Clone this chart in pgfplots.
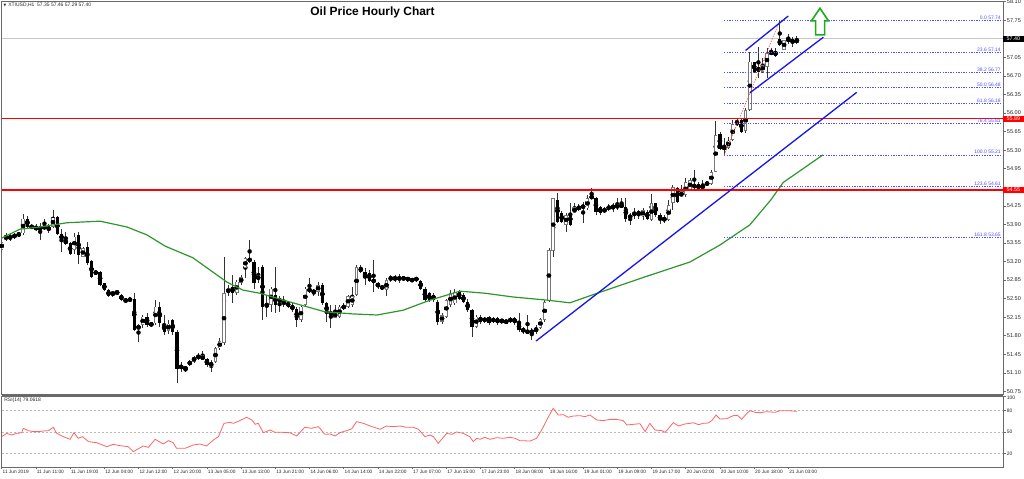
\documentclass[border=0pt]{standalone}
\usepackage{pgfplots}
\pgfplotsset{compat=1.18}
\usepackage{pgfplotstable}
\usepackage{fontspec}
\setmainfont{Liberation Sans}
\newfontfamily\dejavu{DejaVu Sans}

\definecolor{ma}{RGB}{45,150,45}
\definecolor{rsi}{RGB}{255,100,100}
\definecolor{fib}{RGB}{80,80,255}
\definecolor{tl}{RGB}{20,20,235}
\definecolor{frame}{RGB}{105,105,105}
\definecolor{arrowg}{RGB}{30,170,30}
\definecolor{bull}{RGB}{120,120,120}

\tikzset{fiblab/.style={pos=1, anchor=south east, inner sep=0.6bp, text=fib, font=\fontsize{5}{5}\selectfont}}
\pgfplotsset{fibline/.style={fib, line width=0.6bp, dash pattern=on 1.3bp off 1.3bp}}

\pgfplotstableread{
k o h l c
0 53.42 53.60 53.38 53.57
1 53.61 53.73 53.59 53.70
2 53.69 53.71 53.59 53.62
3 53.65 53.74 53.63 53.71
4 53.71 53.73 53.69 53.71
5 53.73 54.09 53.70 54.01
6 54.00 54.05 53.84 53.86
7 53.86 53.88 53.82 53.85
8 53.87 53.90 53.77 53.79
9 53.80 53.92 53.60 53.85
10 53.85 54.01 53.82 53.84
11 53.77 53.90 53.74 53.87
12 53.86 54.17 53.84 54.03
13 54.03 54.05 53.70 53.71
14 53.72 53.82 53.38 53.60
15 53.60 53.76 53.51 53.54
16 53.54 53.57 53.32 53.35
17 53.42 53.73 53.35 53.67
18 53.70 53.75 53.16 53.32
19 53.29 53.48 53.29 53.45
20 53.48 53.57 53.13 53.17
21 53.20 53.23 52.88 52.91
22 52.99 53.01 52.97 52.99
23 53.01 53.03 52.74 52.76
24 52.79 52.80 52.64 52.66
25 52.66 52.68 52.53 52.54
26 52.55 52.65 52.53 52.64
27 52.57 52.67 52.56 52.66
28 52.57 52.58 52.46 52.47
29 52.47 52.52 52.41 52.46
30 52.47 52.51 52.45 52.49
31 52.49 52.60 51.88 51.91
32 51.91 52.03 51.69 52.01
33 52.00 52.19 51.94 52.16
34 52.16 52.22 51.97 52.00
35 52.02 52.06 51.97 52.01
36 52.03 52.47 52.00 52.35
37 52.35 52.44 51.97 52.03
38 52.03 52.19 51.81 51.87
39 51.89 52.09 51.84 52.03
40 52.09 52.12 51.81 51.87
41 51.87 51.90 50.90 51.18
42 51.21 51.31 51.12 51.21
43 51.18 51.21 51.12 51.19
44 51.25 51.34 51.23 51.32
45 51.31 51.42 51.29 51.40
46 51.40 51.47 51.34 51.40
47 51.34 51.51 51.34 51.43
48 51.36 51.37 51.21 51.25
49 51.21 51.34 51.12 51.31
50 51.31 51.59 51.28 51.56
51 51.56 51.75 51.53 51.70
52 51.66 53.29 51.62 52.60
53 52.60 52.76 52.54 52.70
54 52.72 52.94 52.41 52.60
55 52.60 52.85 52.57 52.82
56 52.79 52.94 52.76 52.91
57 53.07 53.29 52.88 53.26
58 53.26 53.60 53.18 53.20
59 53.20 53.23 52.69 52.79
60 52.85 53.10 52.79 52.94
61 53.10 53.14 52.10 52.35
62 52.35 52.57 52.16 52.41
63 52.38 52.72 52.25 52.69
64 52.57 53.10 52.22 52.38
65 52.47 52.54 52.25 52.47
66 52.38 52.54 52.35 52.47
67 52.43 52.46 52.32 52.35
68 52.38 52.41 52.25 52.28
69 52.31 52.35 51.97 52.10
70 52.10 52.38 52.06 52.35
71 52.38 52.72 52.35 52.69
72 52.69 52.88 52.60 52.63
73 52.63 52.69 52.54 52.63
74 52.63 52.82 52.54 52.76
75 52.76 52.79 52.38 52.41
76 52.41 52.44 52.06 52.22
77 52.19 52.38 51.94 52.25
78 52.13 52.38 52.13 52.25
79 52.16 52.38 52.13 52.35
80 52.30 52.41 52.28 52.38
81 52.35 52.57 52.32 52.55
82 52.38 52.72 52.35 52.55
83 52.57 53.13 52.54 53.10
84 53.08 53.13 52.99 53.01
85 53.01 53.07 52.76 52.88
86 52.99 53.04 52.82 52.83
87 52.85 53.23 52.63 52.82
88 52.79 52.82 52.69 52.72
89 52.74 52.76 52.66 52.68
90 52.66 52.88 52.54 52.85
91 52.85 52.94 52.82 52.91
92 52.91 52.94 52.82 52.85
93 52.83 52.96 52.80 52.93
94 52.88 52.91 52.85 52.88
95 52.87 52.91 52.82 52.87
96 52.85 52.88 52.82 52.85
97 52.87 52.91 52.82 52.87
98 52.83 52.85 52.66 52.69
99 52.69 52.72 52.44 52.47
100 52.60 52.63 52.44 52.47
101 52.57 52.60 52.44 52.47
102 52.44 52.47 52.00 52.06
103 52.06 52.22 52.03 52.19
104 52.16 52.50 52.13 52.47
105 52.38 52.66 52.35 52.60
106 52.41 52.69 52.38 52.63
107 52.63 52.66 52.47 52.50
108 52.57 52.60 52.41 52.44
109 52.44 52.50 52.25 52.28
110 52.28 52.31 51.78 51.97
111 51.97 52.19 51.94 52.16
112 52.16 52.19 52.03 52.06
113 52.06 52.16 52.04 52.14
114 52.16 52.17 52.01 52.03
115 52.06 52.15 52.04 52.13
116 52.13 52.15 52.01 52.03
117 52.08 52.12 52.03 52.08
118 52.07 52.09 52.03 52.06
119 52.06 52.15 52.04 52.13
120 52.13 52.15 52.01 52.03
121 52.03 52.22 51.87 51.91
122 51.94 51.96 51.84 51.87
123 51.88 52.19 51.85 51.87
124 51.88 51.94 51.72 51.87
125 51.87 52.00 51.84 51.95
126 51.95 52.13 51.93 52.11
127 52.10 52.47 52.06 52.44
128 52.45 53.45 52.44 53.42
129 53.40 54.39 53.29 54.39
130 54.36 54.49 53.92 53.95
131 54.11 54.15 53.92 53.94
132 53.89 54.11 53.76 54.08
133 54.11 54.30 53.87 53.89
134 54.11 54.30 54.11 54.23
135 54.17 54.28 54.15 54.25
136 54.27 54.33 53.92 54.20
137 54.20 54.45 54.18 54.39
138 54.44 54.58 54.37 54.39
139 54.39 54.42 54.08 54.14
140 54.23 54.25 54.08 54.11
141 54.13 54.23 54.11 54.20
142 54.18 54.28 54.15 54.25
143 54.23 54.30 54.14 54.23
144 54.20 54.39 54.17 54.28
145 54.28 54.39 54.20 54.22
146 54.23 54.39 53.95 54.01
147 54.01 54.11 53.89 54.08
148 54.05 54.20 54.01 54.14
149 54.11 54.17 54.01 54.11
150 54.05 54.20 53.98 54.17
151 54.14 54.17 53.98 54.01
152 53.98 54.48 53.97 54.30
153 54.30 54.31 54.04 54.08
154 54.08 54.11 53.90 53.98
155 53.98 54.08 53.92 54.01
156 53.98 54.36 53.97 54.26
157 54.30 54.64 54.17 54.61
158 54.58 54.61 54.30 54.33
159 54.42 54.64 54.41 54.52
160 54.45 54.77 54.42 54.69
161 54.55 54.77 54.52 54.74
162 54.58 54.93 54.56 54.67
163 54.67 54.70 54.52 54.55
164 54.67 54.74 54.53 54.55
165 54.66 54.70 54.64 54.68
166 54.67 54.92 54.64 54.89
167 54.89 55.84 54.89 55.58
168 55.61 55.64 55.30 55.33
169 55.33 55.52 55.21 55.36
170 55.35 55.55 55.33 55.48
171 55.49 55.87 55.48 55.80
172 55.77 55.90 55.76 55.87
173 55.87 55.90 55.63 55.65
174 55.67 56.09 55.62 56.06
175 56.06 57.16 56.04 56.97
176 56.97 56.97 56.76 56.78
177 56.87 57.25 56.66 56.78
178 56.78 57.03 56.76 56.91
179 56.87 57.22 56.66 57.13
180 57.16 57.22 57.09 57.11
181 57.16 57.22 57.05 57.08
182 57.39 57.74 57.26 57.28
183 57.19 57.38 57.19 57.38
184 57.41 57.50 57.31 57.35
185 57.35 57.44 57.25 57.36
186 57.33 57.45 57.30 57.40
}\candles

\pgfplotstableread{
k p
0 53.64
4.28 53.81
8.96 53.85
15.27 53.93
23.0 53.96
29.3 53.85
34.0 53.70
38.2 53.49
44.7 53.27
52.7 52.81
56.4 52.66
60.4 52.60
68.1 52.42
75.6 52.25
82.2 52.21
87.8 52.19
93.9 52.28
100.2 52.47
107.2 52.64
113.1 52.60
119.6 52.53
127.6 52.47
132.9 52.42
140.0 52.62
150.5 52.91
161.0 53.19
168.0 53.51
175.0 53.89
180.0 54.37
182.8 54.69
192.1 55.21
}\matable

\pgfplotstableread{
k v
0 43.4
1.16 48.1
2.33 45.8
3.5 48.1
4.67 49.0
5.06 55.2
6.23 51.9
7.4 50.5
8.57 50.5
9.74 51.4
10.9 51.9
12.1 56.6
12.85 48.1
14.4 43.4
16.0 39.7
16.9 49.0
17.9 41.1
18.9 43.4
20.3 36.4
22.2 35.0
24.6 29.3
26.1 32.6
27.7 30.7
29.6 29.3
30.8 22.3
33.1 30.3
34.3 28.4
35.9 39.7
37.8 33.1
39.0 37.8
40.1 35.0
40.9 27.0
42.9 27.0
44.8 31.7
46.4 33.1
47.9 30.3
49.5 38.7
50.7 43.4
52.0 62.2
53.4 63.6
54.2 62.2
55.7 66.0
57.3 70.7
58.5 66.9
59.3 60.8
60.0 62.2
61.2 49.0
62.8 52.8
63.9 49.5
65.9 49.5
67.4 49.0
69.0 44.4
70.9 56.6
72.5 55.2
74.1 57.5
75.6 46.7
76.8 47.2
78.0 44.4
79.1 49.0
80.7 51.9
81.9 54.7
83.0 64.6
84.6 62.2
86.2 58.4
88.5 53.8
90.0 58.4
91.6 57.5
93.2 58.4
94.7 56.6
96.3 56.6
97.5 53.8
99.0 43.4
100.2 45.8
101.0 43.4
102.1 34.0
104.1 48.1
105.3 46.7
106.4 50.0
108.0 48.1
109.5 43.4
110.3 36.4
111.1 41.1
111.9 39.7
113.0 42.5
114.2 39.7
115.8 42.0
117.3 41.1
118.9 42.5
120.1 41.1
121.2 37.8
123.6 37.3
125.1 41.1
126.3 52.8
127.9 71.6
129.0 83.3
130.2 73.9
131.4 74.4
132.5 70.7
133.7 72.5
135.3 73.0
136.4 71.6
137.6 73.9
139.2 66.9
140.7 66.0
142.3 67.8
143.8 67.8
145.4 66.0
146.2 59.9
147.7 60.8
149.3 61.7
150.5 50.5
151.6 62.2
152.8 52.8
154.4 51.9
155.2 49.5
157.1 63.2
158.3 58.4
159.8 61.3
161.0 62.2
161.8 63.1
163.0 60.3
164.1 62.2
165.3 62.7
166.1 66.0
167.1 73.9
168.0 68.3
169.6 68.8
171.1 73.0
172.1 73.5
173.1 67.8
174.3 76.3
175.0 80.0
176.2 77.7
177.4 77.2
178.9 78.6
180.9 77.7
182.1 80.0
184.0 80.0
186.0 79.1
}\rsitable

\begin{document}
\begin{tikzpicture}[x=1bp,y=1bp]
\useasboundingbox (0,0) rectangle (1024,479);

% ---------------- main price panel ----------------
\begin{axis}[
  at={(1.7bp,477.3bp)}, anchor=north west,
  scale only axis, width=1001.3bp, height=392.3bp,
  xmin=0, xmax=234.22, ymin=50.70, ymax=58.10,
  clip mode=individual,
  axis line style={draw=frame, line width=0.8bp},
  xtick=\empty,
  ytick={50.75,51.10,51.45,51.80,52.15,52.50,52.85,53.20,53.55,53.90,54.25,54.95,55.30,55.65,56.00,56.35,56.70,57.05,57.75,58.10},
  ytick pos=right, yticklabel pos=right,
  tick align=outside, major tick length=2.5bp,
  tick style={draw=frame, line width=0.5bp},
  yticklabel style={font=\fontsize{5.6}{6}\selectfont, text=black!85, inner sep=1.2bp,
    /pgf/number format/.cd, fixed, fixed zerofill, precision=2, assume math mode=true},
]
% current price line
\addplot[gray!45, line width=0.6bp] coordinates {(0,57.40) (234.22,57.40)};

% wicks
\addplot[only marks, mark=none, error bars/.cd, y dir=both, y explicit, error mark=none,
  error bar style={draw=black!80, line width=0.8bp}]
  table[x=k, y expr={(\thisrow{h}+\thisrow{l})/2}, y error expr={(\thisrow{h}-\thisrow{l})/2}] {\candles};
% doji ticks
\addplot[only marks, mark=-, mark size=1.6bp, mark options={draw=black, line width=0.8bp}]
  table[x=k, y expr={(\thisrow{o}+\thisrow{c})/2}] {\candles};
% bearish bodies (black)
\addplot[only marks, mark=none, error bars/.cd, y dir=both, y explicit, error mark=none,
  error bar style={draw=black, line width=3.2bp}]
  table[x=k, y expr={(\thisrow{o}+\thisrow{c})/2}, y error expr={max(0,(\thisrow{o}-\thisrow{c})/2)}] {\candles};
% bullish bodies (grey outline, white inside)
\addplot[only marks, mark=none, error bars/.cd, y dir=both, y explicit, error mark=none,
  error bar style={draw=bull, line width=3.4bp}]
  table[x=k, y expr={(\thisrow{o}+\thisrow{c})/2}, y error expr={max(0,(\thisrow{c}-\thisrow{o})/2)}] {\candles};
\addplot[only marks, mark=none, error bars/.cd, y dir=both, y explicit, error mark=none,
  error bar style={draw=white, line width=1.8bp}]
  table[x=k, y expr={(\thisrow{o}+\thisrow{c})/2}, y error expr={max(0,(\thisrow{c}-\thisrow{o})/2-0.016)}] {\candles};

% moving average
\addplot[ma, line width=1.2bp] table[x=k, y=p] {\matable};

% horizontal resistance lines
\addplot[red, line width=1.3bp] coordinates {(0,55.89) (234.22,55.89)};
\addplot[red, line width=1.3bp] coordinates {(0,54.55) (234.22,54.55)};

% fibonacci levels
\addplot[fibline] coordinates {(169,57.74) (233.9,57.74)} node[fiblab] {0.0 57.74};
\addplot[fibline] coordinates {(169,57.14) (233.9,57.14)} node[fiblab] {23.6 57.14};
\addplot[fibline] coordinates {(169,56.77) (233.9,56.77)} node[fiblab] {38.2 56.77};
\addplot[fibline] coordinates {(169,56.48) (233.9,56.48)} node[fiblab] {50.0 56.48};
\addplot[fibline] coordinates {(169,56.18) (233.9,56.18)} node[fiblab] {61.8 56.18};
\addplot[fibline] coordinates {(169,55.81) (233.9,55.81)} node[fiblab] {76.4 55.81};
\addplot[fibline] coordinates {(169,55.21) (233.9,55.21)} node[fiblab] {100.0 55.21};
\addplot[fibline] coordinates {(169,54.61) (233.9,54.61)} node[fiblab] {123.6 54.61};
\addplot[fibline] coordinates {(169,53.65) (233.9,53.65)} node[fiblab] {161.8 53.65};
\addplot[red!75, line width=0.6bp, dash pattern=on 1.3bp off 1.3bp] coordinates {(169,55.21) (182,57.74)};

% trend lines and channel
\addplot[tl, line width=1.3bp] coordinates {(125.0,51.70) (200.0,56.39)};
\addplot[tl, line width=1.3bp] coordinates {(174.0,57.18) (184.0,57.83)};
\addplot[tl, line width=1.3bp] coordinates {(175.0,56.38) (192.2,57.43)};

% green up arrow
\addplot[arrowg, line width=1.6bp, fill=white, line join=miter] coordinates {
 (191.4,57.976) (193.4,57.737) (192.5,57.737) (192.5,57.473) (190.4,57.473) (190.4,57.737) (189.4,57.737) (191.4,57.976)} -- cycle;

% price boxes on the scale
\node[fill=black, text=white, anchor=west, inner sep=0.5bp, minimum width=20.5bp, minimum height=6.5bp,
  font=\fontsize{5.4}{5.4}\selectfont] at (axis cs:234.22,57.40) {57.40};
\node[fill=red, text=white, anchor=west, inner sep=0.5bp, minimum width=20.5bp, minimum height=6.5bp,
  font=\fontsize{5.4}{5.4}\selectfont] at (axis cs:234.22,55.89) {55.89};
\node[fill=red, text=white, anchor=west, inner sep=0.5bp, minimum width=20.5bp, minimum height=6.5bp,
  font=\fontsize{5.4}{5.4}\selectfont] at (axis cs:234.22,54.55) {54.55};
\end{axis}

% ---------------- RSI panel ----------------
\begin{axis}[
  at={(1.7bp,83bp)}, anchor=north west,
  scale only axis, width=1001.3bp, height=71bp,
  xmin=0, xmax=234.22, ymin=0.7, ymax=100.7,
  clip mode=individual,
  axis line style={draw=frame, line width=0.8bp},
  xtick={0,8,...,184},
  xticklabels={11 Jun 2019, 11 Jun 11:00, 11 Jun 19:00, 12 Jun 04:00, 12 Jun 12:00, 12 Jun 20:00,
    13 Jun 05:00, 13 Jun 13:00, 13 Jun 21:00, 14 Jun 06:00, 14 Jun 14:00, 14 Jun 22:00,
    17 Jun 07:00, 17 Jun 15:00, 17 Jun 23:00, 18 Jun 08:00, 18 Jun 16:00, 19 Jun 01:00,
    19 Jun 09:00, 19 Jun 17:00, 20 Jun 02:00, 20 Jun 10:00, 20 Jun 18:00, 21 Jun 03:00},
  xtick pos=bottom,
  xticklabel style={anchor=north west, font=\fontsize{4.8}{5}\selectfont, text=black!85, inner sep=0.8bp},
  ytick={20,50,80}, extra y ticks={0,100},
  extra y tick labels={\raisebox{8bp}{0},\raisebox{-6bp}{100}},
  extra y tick style={grid=none},
  ymajorgrids, grid style={gray!55, line width=0.5bp, dash pattern=on 2bp off 2bp},
  ytick pos=right, yticklabel pos=right,
  tick align=outside, major tick length=2.5bp,
  tick style={draw=frame, line width=0.5bp},
  yticklabel style={font=\fontsize{5}{5}\selectfont, text=black!85, inner sep=1.2bp, /pgf/number format/assume math mode=true},
]
\addplot[rsi, line width=0.8bp] table[x=k, y=v] {\rsitable};
\draw[frame, line width=2.2bp] ([yshift=1.1bp]rel axis cs:0,1) -- ([yshift=1.1bp]rel axis cs:1,1);
\node[anchor=north west, inner sep=0bp, font=\fontsize{5}{5}\selectfont, text=black!85] at ([xshift=2.5bp,yshift=-2bp]rel axis cs:0,1) {RSI(14) 79.0618};
\end{axis}

% header texts
\node[anchor=west, inner sep=0pt, font=\fontsize{5}{5}\selectfont, text=black!85] at (3.5,473.5)
  {{\dejavu\fontsize{3.5}{4}\selectfont ▼}\hspace{2bp}XTIUSD,H1\ \ 57.35 57.46 57.29 57.40};
\node[font=\bfseries\fontsize{12}{12}\selectfont, inner sep=0pt] at (372.5,467) {Oil Price Hourly Chart};
\end{tikzpicture}
\end{document}
